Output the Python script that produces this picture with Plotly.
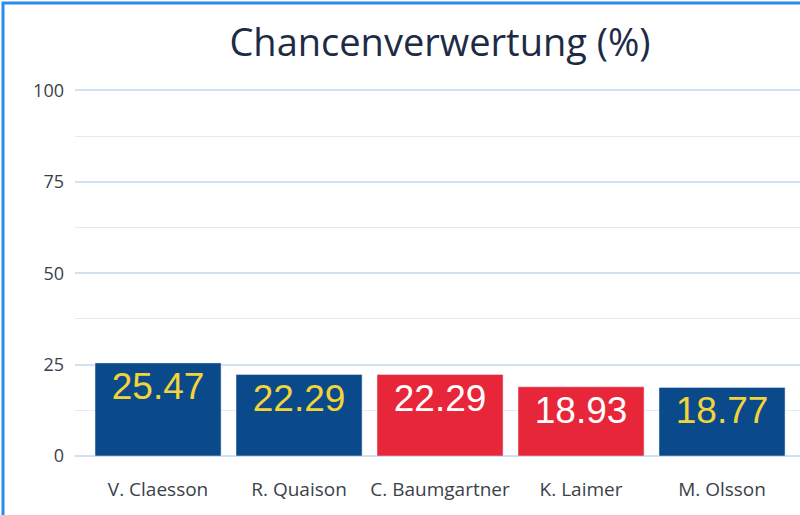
import plotly.graph_objects as go

players = ["V. Claesson", "R. Quaison", "C. Baumgartner", "K. Laimer", "M. Olsson"]
conversion = [25.47, 22.29, 22.29, 18.93, 18.77]
teams = ["SWE", "SWE", "AUT", "AUT", "SWE"]

team_colors = {"SWE": "#0b4a8a", "AUT": "#e8263a"}
text_colors = {"SWE": "#f2d43a", "AUT": "#ffffff"}

fig = go.Figure(
    go.Bar(
        x=players,
        y=conversion,
        marker_color=[team_colors[t] for t in teams],
        text=[f"{v:.2f}" for v in conversion],
        textposition="inside",
        insidetextanchor="end",
        textangle=0,
        textfont=dict(family="Liberation Sans, Arial", size=37,
                      color=[text_colors[t] for t in teams]),
        cliponaxis=False,
    )
)

grid_col = "#cfe2f4"
fig.update_layout(
    width=800, height=515,
    margin=dict(l=75, r=0, t=89, b=59),
    paper_bgcolor="white", plot_bgcolor="white",
    bargap=0.106,
    showlegend=False,
    title=dict(text="Chancenverwertung (%)", x=0.55, xanchor="center",
               y=0.918, yanchor="middle",
               font=dict(family="Open Sans", size=38, color="#1e2b45")),
    font=dict(family="Open Sans", color="#3c3f4a"),
)
fig.update_xaxes(range=[-0.589, 4.553], showgrid=False, showline=False,
                 ticks="", ticklabelstandoff=20,
                 tickfont=dict(size=19, color="#3c3f4a"))
fig.update_yaxes(range=[0, 100.4], tickvals=[0, 25, 50, 75, 100],
                 showgrid=True, gridcolor=grid_col, gridwidth=1.5,
                 zeroline=True, zerolinecolor=grid_col, zerolinewidth=1.5,
                 minor=dict(dtick=12.5, showgrid=True, gridcolor="#e1ecf7", gridwidth=1),
                 ticks="", ticklabelstandoff=10,
                 tickfont=dict(size=18, color="#3c3f4a"))

# blue frame around the card (right edge is cut off in the reference)
fig.add_shape(type="rect", xref="paper", yref="paper",
              x0=-72 / 725, x1=1.2, y0=-59 / 367 - 0.05, y1=1 + 86 / 367,
              line=dict(color="#2a8bef", width=3), layer="above")

fig.write_html("out.html", config={"displayModeBar": False},
               post_script="document.body.style.margin='0';")
